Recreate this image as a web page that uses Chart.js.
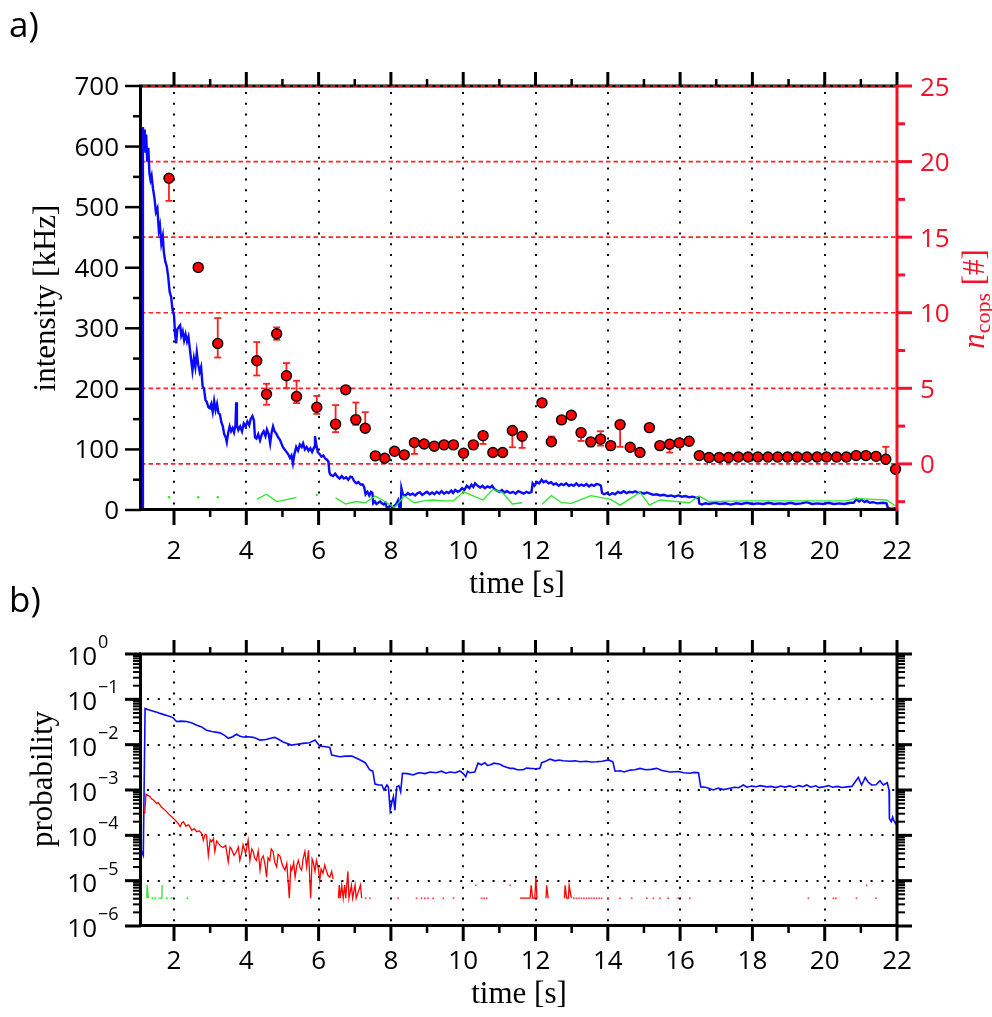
<!DOCTYPE html>
<html>
<head>
<meta charset="utf-8">
<script src="https://cdn.jsdelivr.net/npm/chart.js@4.4.1/dist/chart.umd.min.js"></script>
<style>
  html, body { margin: 0; padding: 0; background: #fff; width: 992px; height: 1017px; overflow: hidden; }
  canvas { position: absolute; left: 0; }
  #chartA { top: 0; }
  #chartB { top: 620px; }
</style>
</head>
<body>
<canvas id="chartA" width="992" height="620"></canvas>
<canvas id="chartB" width="992" height="397"></canvas>
<script>
// ---------------- panel a: fluorescence intensity ----------------
const intensityTime = [
  1.12,1.14,1.17,1.19,1.21,1.23,1.26,1.29,1.32,1.35,1.38,1.42,1.46,1.50,1.54,1.58,1.61,1.65,1.69,1.72,
  1.76,1.80,1.84,1.88,1.92,1.96,2.00,2.03,2.06,2.09,2.13,2.17,2.20,2.24,2.28,2.32,2.36,2.40,2.44,2.48,
  2.51,2.55,2.59,2.63,2.67,2.71,2.75,2.79,2.83,2.87,2.91,2.95,2.99,3.03,3.07,3.11,3.15,3.19,3.23,3.27,
  3.31,3.35,3.39,3.43,3.46,3.50,3.54,3.58,3.62,3.66,3.70,3.72,3.74,3.78,3.83,3.88,3.93,3.98,4.03,4.08,
  4.12,4.17,4.21,4.24,4.28,4.33,4.38,4.43,4.48,4.53,4.57,4.62,4.66,4.70,4.74,4.78,4.83,4.88,4.93,4.97,
  5.01,5.06,5.11,5.16,5.21,5.25,5.29,5.33,5.38,5.43,5.48,5.53,5.57,5.62,5.67,5.72,5.77,5.82,5.88,5.90,
  5.93,5.98,6.03,6.08,6.13,6.18,6.23,6.27,6.30,6.33,6.40,6.46,6.52,6.58,6.64,6.70,6.76,6.82,6.88,6.93,
  6.98,7.04,7.10,7.16,7.22,7.26,7.30,7.35,7.40,7.45,7.49,7.51,7.56,7.60,7.65,7.70,7.75,7.80,7.85,7.88,
  7.92,7.98,8.04,8.10,8.15,8.20,8.24,8.27,8.29,8.33,8.40,8.47,8.53,8.60,8.67,8.74,8.80,8.87,8.94,9.00,
  9.07,9.14,9.20,9.27,9.34,9.40,9.47,9.54,9.60,9.67,9.72,9.78,9.85,9.91,9.97,10.03,10.10,10.17,10.23,10.28,
  10.33,10.40,10.47,10.53,10.60,10.67,10.74,10.80,10.87,10.93,11.00,11.07,11.14,11.21,11.30,11.38,11.45,11.52,11.60,11.67,
  11.75,11.82,11.89,11.92,11.97,12.04,12.10,12.17,12.22,12.29,12.36,12.43,12.50,12.57,12.64,12.71,12.78,12.85,12.92,12.99,
  13.06,13.13,13.20,13.27,13.34,13.41,13.48,13.55,13.62,13.69,13.76,13.81,13.84,13.90,13.97,14.05,14.12,14.20,14.28,14.36,
  14.44,14.52,14.60,14.68,14.76,14.84,14.92,15.00,15.08,15.17,15.25,15.35,15.45,15.55,15.65,15.75,15.85,15.95,16.05,16.15,
  16.25,16.35,16.45,16.51,16.53,16.60,16.70,16.80,16.95,17.10,17.25,17.40,17.55,17.70,17.85,18.00,18.15,18.30,18.45,18.60,
  18.75,18.90,19.05,19.20,19.35,19.50,19.65,19.80,19.95,20.10,20.25,20.40,20.55,20.70,20.80,20.88,20.95,21.02,21.10,21.16,
  21.25,21.34,21.45,21.60,21.71,21.75,21.85,21.97
];
const intensityKHz = [
  0,632,600,628,590,620,575,598,556,545,552,530,515,492,498,462,470,440,452,425,
  410,402,385,360,352,330,322,290,275,298,302,305,288,295,280,290,278,286,265,245,
  230,250,236,260,240,228,236,205,200,182,178,170,168,175,162,180,165,175,160,158,
  145,138,125,120,112,128,138,130,135,128,140,178,140,132,138,130,143,138,146,140,
  150,155,148,120,118,125,115,125,130,122,133,125,110,128,138,130,126,120,116,110,
  104,100,96,92,86,90,77,92,104,98,108,104,110,100,104,98,102,96,104,122,
  110,95,92,88,90,85,83,80,62,58,56,60,55,52,56,52,54,50,55,54,
  48,44,46,42,42,38,26,30,24,30,28,11,14,10,12,14,11,9,12,5,
  3,8,4,7,10,16,3,2,36,26,24,28,25,27,24,28,29,25,28,30,
  26,29,26,30,27,31,27,30,28,32,28,33,30,32,36,33,40,36,42,38,
  44,40,37,40,36,39,37,40,34,32,30,33,29,31,28,30,27,31,29,27,
  30,28,30,44,40,46,44,50,46,48,44,46,42,44,40,43,41,44,40,42,
  40,44,40,42,40,43,39,42,40,43,42,40,28,26,28,25,28,26,30,28,
  31,28,30,29,31,28,29,27,29,27,25,26,24,25,23,24,22,24,22,23,
  21,22,20,21,11,9,11,10,12,10,11,9,11,10,12,10,11,10,12,10,
  11,10,12,10,11,13,10,11,10,12,10,11,10,12,12,18,14,17,13,15,
  12,13,11,12,11,3,2,3
];

// per-interval shot estimate (gaps where no estimate exists)
const shotTime = [1.86,1.90,2.67,2.71,3.21,3.25,4.29,4.56,4.84,5.11,5.39,5.45,5.95,6.00,
  6.47,6.75,7.03,7.29,7.57,7.83,8.10,8.37,8.65,8.92,9.17,9.47,9.73,10.01,10.55,10.82,11.09,11.36,11.63,11.70,
  12.18,12.44,12.72,12.99,13.53,14.08,14.34,14.89,15.15,15.44,16.25,16.53,16.80,17.88,20.60,20.88,21.34,21.71,21.96];
const shotKHz = [21,null,21,null,21,null,18,26,14,17,21,null,25,null,
  20,10,14,12,23,14,4,23,12,15,16.5,15,15,30,16.5,34,28.6,10,12,null,
  9.4,23.7,12,11,23.7,17.6,8,29,8,16.5,12,23,14,15,15,19,17.6,16.5,6.6];

// number of detected copies per interval, with error bounds
const copsTime = [1.86,2.67,3.21,4.29,4.56,4.84,5.11,5.39,5.95,6.47,6.75,7.03,7.29,7.57,7.83,8.10,8.37,8.65,8.92,9.20,
  9.47,9.73,10.01,10.28,10.55,10.82,11.09,11.36,11.63,12.18,12.44,12.72,12.99,13.26,13.53,13.80,14.08,14.34,14.62,14.89,
  15.15,15.44,15.71,15.98,16.25,16.53,16.80,17.08,17.34,17.61,17.88,18.15,18.43,18.70,18.97,19.24,19.51,19.79,20.05,20.33,
  20.60,20.87,21.14,21.42,21.69,21.96];
const copsCount = [18.9,13.0,7.97,6.82,4.61,8.61,5.83,4.46,3.75,2.63,4.90,2.93,2.36,0.53,0.37,0.84,0.60,1.41,1.32,1.17,
  1.26,1.26,0.71,1.26,1.87,0.75,0.75,2.21,1.83,4.04,1.46,2.91,3.22,2.07,1.46,1.64,1.21,2.60,1.10,0.75,
  2.40,1.21,1.30,1.39,1.50,0.55,0.42,0.42,0.42,0.46,0.46,0.46,0.46,0.46,0.46,0.46,0.46,0.46,0.46,0.46,
  0.46,0.55,0.55,0.50,0.31,-0.35];
const copsLow = [17.4,null,7.04,5.85,3.91,8.21,5.01,4.02,3.31,2.10,null,2.58,2.36,null,null,null,null,0.66,null,null,
  null,null,null,null,1.32,null,null,1.10,1.06,null,1.46,null,null,1.52,1.15,1.21,null,1.13,null,null,
  null,null,0.75,null,null,null,null,null,null,null,null,null,null,null,null,null,null,null,null,null,
  null,null,null,null,0.31,null];
const copsHigh = [18.9,null,9.65,8.06,5.30,9.03,6.67,5.50,4.50,3.89,null,4.06,3.42,null,null,null,null,1.41,null,null,
  null,null,null,null,1.87,null,null,2.21,1.83,null,1.81,null,null,2.07,1.46,2.16,null,2.60,null,null,
  null,null,1.30,null,null,null,null,null,null,null,null,null,null,null,null,null,null,null,null,null,
  null,null,null,null,1.13,null];

// ---------------- panel b: probabilities ----------------
const probTime = [1.09,1.15,1.20,1.27,1.34,1.45,1.55,1.61,1.72,1.80,1.89,1.98,2.03,2.07,2.20,2.35,2.50,2.63,2.75,2.90,
  3.05,3.27,3.40,3.50,3.62,3.73,3.81,3.91,4.05,4.19,4.30,4.38,4.55,4.70,4.79,4.90,5.02,5.15,5.25,5.40,
  5.57,5.75,5.90,6.03,6.20,6.31,6.36,6.59,6.75,6.92,7.05,7.15,7.29,7.42,7.50,7.56,7.65,7.75,7.81,7.89,
  7.93,7.98,8.03,8.07,8.11,8.16,8.22,8.27,8.32,8.45,8.62,8.70,8.80,8.95,9.08,9.25,9.40,9.52,9.63,9.78,
  9.91,10.00,10.07,10.12,10.18,10.32,10.41,10.50,10.60,10.67,10.74,10.85,11.02,11.10,11.20,11.30,11.39,11.50,11.66,11.75,
  11.85,12.00,12.12,12.17,12.28,12.40,12.55,12.65,12.77,12.95,13.10,13.23,13.40,13.55,13.69,13.85,14.02,14.14,14.20,14.35,
  14.45,14.62,14.75,14.89,15.05,15.20,15.35,15.50,15.72,15.95,16.10,16.27,16.40,16.51,16.57,16.70,16.83,16.92,17.05,17.20,
  17.35,17.50,17.62,17.75,17.85,17.98,18.10,18.22,18.40,18.52,18.65,18.78,18.90,19.04,19.15,19.28,19.40,19.50,19.62,19.75,
  19.85,19.96,20.10,20.22,20.35,20.48,20.61,20.75,20.84,20.93,21.02,21.08,21.12,21.20,21.30,21.42,21.53,21.62,21.73,21.78,
  21.79,21.84,21.88,21.90,21.95,21.99];
const probBlue = [4.7e-5,3.6e-5,6.3e-2,6.0e-2,5.75e-2,5.4e-2,5.1e-2,4.9e-2,4.6e-2,4.4e-2,4.17e-2,3.9e-2,3.5e-2,3.24e-2,3.3e-2,3.24e-2,3.0e-2,2.69e-2,2.5e-2,2.09e-2,
  1.95e-2,1.82e-2,1.6e-2,1.38e-2,1.5e-2,1.7e-2,1.55e-2,1.48e-2,1.5e-2,1.45e-2,1.35e-2,1.26e-2,1.3e-2,1.4e-2,1.45e-2,1.3e-2,1.15e-2,1.05e-2,9.8e-3,1.02e-2,
  1.07e-2,1.1e-2,1.26e-2,9.3e-3,9.0e-3,8.7e-3,5.9e-3,5.4e-3,5.6e-3,5.6e-3,5.0e-3,4.6e-3,4.0e-3,2.75e-3,2.6e-3,1.35e-3,1.3e-3,1.29e-3,1.0e-3,1.29e-3,
  1.17e-3,3.6e-4,5.5e-4,7.1e-4,3.6e-4,1.17e-3,1.25e-3,9.1e-4,2.34e-3,2.3e-3,2.14e-3,2.3e-3,2.4e-3,2.3e-3,2.5e-3,2.4e-3,2.6e-3,2.35e-3,2.5e-3,2.4e-3,
  2.63e-3,2.3e-3,1.95e-3,2.6e-3,2.4e-3,2.5e-3,3.9e-3,3.6e-3,4.0e-3,3.5e-3,3.55e-3,3.9e-3,3.7e-3,3.4e-3,3.16e-3,3.0e-3,3.0e-3,2.8e-3,2.8e-3,3.05e-3,
  3.0e-3,2.95e-3,3.0e-3,4.0e-3,4.3e-3,4.8e-3,4.4e-3,4.6e-3,4.4e-3,4.3e-3,4.4e-3,4.2e-3,4.3e-3,4.15e-3,4.2e-3,4.3e-3,4.6e-3,4.2e-3,2.6e-3,2.65e-3,
  2.5e-3,2.75e-3,2.8e-3,3.0e-3,2.8e-3,2.85e-3,3.0e-3,2.7e-3,2.5e-3,2.55e-3,2.4e-3,2.34e-3,2.45e-3,2.4e-3,1.17e-3,1.15e-3,1.07e-3,1.0e-3,1.1e-3,1.02e-3,
  1.08e-3,1.15e-3,1.12e-3,1.29e-3,1.15e-3,1.22e-3,1.18e-3,1.25e-3,1.17e-3,1.2e-3,1.13e-3,1.22e-3,1.16e-3,1.23e-3,1.14e-3,1.25e-3,1.18e-3,1.29e-3,1.15e-3,1.24e-3,
  1.13e-3,1.17e-3,1.25e-3,1.15e-3,1.2e-3,1.14e-3,1.17e-3,1.2e-3,1.5e-3,1.9e-3,1.29e-3,1.6e-3,1.9e-3,1.5e-3,1.29e-3,1.3e-3,1.6e-3,1.29e-3,1.45e-3,1.0e-3,
  2.34e-4,2.0e-4,2.5e-4,2.2e-4,1.9e-4,1.7e-4];

const probRedTime = [1.19,1.225,1.28,1.336,1.38,1.43,1.47,1.52,1.56,1.61,1.65,1.70,1.75,1.80,1.86,1.93,2.00,2.07,2.12,2.17,
  2.22,2.26,2.33,2.40,2.45,2.49,2.56,2.63,2.70,2.77,2.81,2.86,2.90,2.95,3.00,3.04,3.09,3.13,3.18,3.22,
  3.29,3.36,3.43,3.50,3.55,3.59,3.66,3.73,3.78,3.82,3.87,3.91,3.98,4.05,4.10,4.15,4.19,4.23,4.28,4.33,
  4.38,4.42,4.47,4.52,4.56,4.60,4.65,4.69,4.74,4.79,4.84,4.88,4.93,5.00,5.07,5.12,5.19,5.23,5.26,5.31,
  5.35,5.40,5.44,5.49,5.53,5.57,5.62,5.67,5.72,5.78,5.82,5.85,5.90,5.94,5.99,6.03,6.07,6.12,6.17,6.21,
  6.26,6.31,6.36,6.40,6.45,6.55,6.57,6.60,6.64,6.68,6.72,6.75,6.81,6.84,6.91,6.94,7.01,7.04,7.16,7.19,
  7.24,7.30,7.35,7.42,7.46,8.20,8.25,8.71,8.76,8.85,8.90,8.94,8.98,9.03,9.08,9.17,9.22,9.45,9.50,9.73,
  9.78,10.35,10.40,10.51,10.55,10.58,10.62,10.65,10.70,11.30,11.35,11.57,11.85,11.88,11.92,11.98,12.01,12.04,12.06,12.10,
  12.29,12.31,12.35,12.40,12.80,12.82,12.86,12.91,12.93,12.99,
  13.02,13.06,13.09,13.13,13.16,13.20,13.23,13.27,13.30,13.34,13.37,13.41,13.44,13.48,13.51,13.55,13.58,13.62,13.65,13.69,
  13.72,13.76,13.79,13.83,13.90,
  14.01,14.05,14.34,14.38,14.66,14.70,15.08,15.12,
  15.26,15.30,15.44,15.48,15.67,15.71,15.95,15.99,16.27,16.31,19.55,19.59,20.24,20.28,20.31,20.35,20.88,20.92,21.16,21.20,
  21.42];
const probRed = [3.0e-4,8.1e-4,7.6e-4,7.1e-4,6.4e-4,6.0e-4,5.6e-4,5.0e-4,5.3e-4,4.7e-4,4.2e-4,3.9e-4,3.6e-4,3.3e-4,2.9e-4,2.6e-4,2.3e-4,2.0e-4,1.8e-4,1.55e-4,
  1.9e-4,2.0e-4,1.6e-4,1.7e-4,1.5e-4,1.29e-4,1.4e-4,1.2e-4,1.25e-4,1.1e-4,7.8e-5,1.05e-4,1.02e-4,3.6e-5,8.0e-5,7.2e-5,8.5e-5,4.4e-5,7.5e-5,6.8e-5,
  5.8e-5,5.4e-5,6.0e-5,2.6e-5,5.5e-5,5.0e-5,3.6e-5,4.4e-5,5.5e-5,2.8e-5,4.0e-5,6.2e-5,4.0e-5,7.8e-5,2.8e-5,5.0e-5,4.4e-5,3.2e-5,2.8e-5,4.5e-5,
  1.7e-5,3.0e-5,3.5e-5,2.2e-5,1.2e-5,3.2e-5,2.8e-5,5.0e-5,4.4e-5,2.5e-5,2.0e-5,3.8e-5,3.5e-5,2.2e-5,1.7e-5,2.4e-5,4.1e-6,2.0e-5,1.7e-5,2.5e-5,
  1.2e-5,2.2e-5,2.8e-5,1.9e-5,1.7e-5,3.0e-5,4.4e-5,2.0e-5,4.7e-5,4.1e-6,3.0e-5,2.6e-5,1.6e-5,2.8e-5,1.9e-5,1.0e-5,1.8e-5,1.45e-5,2.2e-5,1.7e-5,
  1.3e-5,1.2e-5,1.6e-5,1.1e-5,null,4.1e-6,8.0e-6,4.1e-6,7.9e-6,4.1e-6,8.0e-6,4.1e-6,1.6e-5,4.1e-6,7.9e-6,4.1e-6,8.0e-6,4.1e-6,8.0e-6,4.1e-6,
  null,4.1e-6,null,4.1e-6,null,4.1e-6,null,4.1e-6,null,4.1e-6,null,4.1e-6,null,4.1e-6,null,4.1e-6,null,4.1e-6,null,4.1e-6,
  null,7.9e-6,null,4.1e-6,null,4.1e-6,null,4.1e-6,null,7.9e-6,null,4.1e-6,4.1e-6,7.9e-6,4.1e-6,4.1e-6,1.17e-5,4.1e-6,4.1e-6,null,
  4.1e-6,7.9e-6,4.1e-6,null,4.1e-6,7.9e-6,4.1e-6,4.1e-6,7.9e-6,4.1e-6,
  null,4.1e-6,null,4.1e-6,null,4.1e-6,null,4.1e-6,null,4.1e-6,null,4.1e-6,null,4.1e-6,null,4.1e-6,null,4.1e-6,null,4.1e-6,
  null,4.1e-6,null,4.1e-6,null,
  4.1e-6,null,4.1e-6,null,4.1e-6,null,4.1e-6,null,
  4.1e-6,null,4.1e-6,null,4.1e-6,null,4.1e-6,null,4.1e-6,null,4.1e-6,null,4.1e-6,null,4.1e-6,null,4.1e-6,null,7.9e-6,null,
  4.1e-6];

const probGreenTime = [1.25,1.255,1.29,1.32,1.40,1.44,1.48,1.53,1.57,1.63,1.665,1.67,1.71,1.80,1.84,1.93,1.97,2.37];
const probGreen = [4.1e-6,8.0e-6,4.1e-6,null,4.1e-6,null,4.1e-6,null,4.1e-6,4.1e-6,4.1e-6,8.0e-6,null,4.1e-6,null,4.1e-6,null,4.1e-6];

// ---------------- axis ticks ----------------
const timeTicks = [2,4,6,8,10,12,14,16,18,20,22];
const timeMinorTicks = [3,5,7,9,11,13,15,17,19,21];
const intensityTicks = [0,100,200,300,400,500,600,700];
const intensityMinorTicks = [50,150,250,350,450,550,650];
const copsTicks = [0,5,10,15,20,25];
const copsMinorTicks = [-2.5,2.5,7.5,12.5,17.5,22.5];
const probExponents = [0,-1,-2,-3,-4,-5,-6];

// ---------------- drawing helpers ----------------
const TICK_FONT = '26px "Open Sans"';
const EXP_FONT = '18px "Open Sans"';
const TITLE_FONT = '31px "Liberation Serif"';
const AXIS_RED = '#f2132b';
const GRID_RED = '#ff2424';
const BLUE = '#0a0aff';

const pts = (xs, ys) => xs.map((x, i) => ({ x, y: ys[i] }));

// radius only for samples that have no neighbour to join with
const loneRadius = r => c => {
  const d = c.dataset.data, i = c.dataIndex;
  const p = d[i - 1], n = d[i + 1];
  if (d[i].y == null) return 0;
  return ((!p || p.y == null) && (!n || n.y == null)) ? r : 0;
};

function seg(ctx, x1, y1, x2, y2) {
  ctx.beginPath(); ctx.moveTo(x1, y1); ctx.lineTo(x2, y2); ctx.stroke();
}

function timeAxisTicks(ctx, x, a) {
  ctx.strokeStyle = '#000'; ctx.setLineDash([]);
  ctx.lineWidth = 3;
  for (const t of timeTicks) {
    const px = x.getPixelForValue(t);
    seg(ctx, px, a.top, px, a.top - 14);
    seg(ctx, px, a.bottom, px, a.bottom + 15);
  }
  ctx.lineWidth = 2.5;
  for (const t of timeMinorTicks) {
    const px = x.getPixelForValue(t);
    seg(ctx, px, a.top, px, a.top - 7);
    seg(ctx, px, a.bottom, px, a.bottom + 7);
  }
}

function timeLabels(ctx, x, y) {
  ctx.font = TICK_FONT; ctx.fillStyle = '#000';
  ctx.textAlign = 'center'; ctx.textBaseline = 'alphabetic';
  for (const t of timeTicks) ctx.fillText(String(t), x.getPixelForValue(t), y);
}

function dottedTimeGrid(ctx, x, a) {
  ctx.save();
  ctx.strokeStyle = '#000'; ctx.lineWidth = 2; ctx.setLineDash([2, 8.8]);
  for (const t of timeTicks) {
    const px = Math.round(x.getPixelForValue(t));
    if (px >= a.right - 2) continue;
    seg(ctx, px, a.top + 6, px, a.bottom);
  }
  ctx.restore();
}

function rotated(ctx, cx, cy, draw) {
  ctx.save(); ctx.translate(cx, cy); ctx.rotate(-Math.PI / 2); draw(); ctx.restore();
}

// ---------------- panel a decorations ----------------
const panelA = {
  id: 'panelA',
  beforeDatasetsDraw(chart) {
    const { ctx, chartArea: a, scales: { x, yR } } = chart;
    dottedTimeGrid(ctx, x, a);
    ctx.save();
    ctx.strokeStyle = GRID_RED; ctx.lineWidth = 1.7; ctx.setLineDash([4.5, 3]);
    for (const v of copsTicks) {
      const py = yR.getPixelForValue(v);
      if (py < a.top + 2) continue;
      seg(ctx, a.left, py, a.right, py);
    }
    ctx.restore();
  },
  beforeDatasetDraw(chart, args) {
    if (args.index !== 2) return;
    const { ctx, scales: { x, yR } } = chart;
    ctx.save();
    ctx.strokeStyle = '#ff1f1f'; ctx.lineWidth = 1.8; ctx.setLineDash([]);
    copsTime.forEach((t, i) => {
      if (copsLow[i] == null) return;
      const px = x.getPixelForValue(t);
      const y1 = yR.getPixelForValue(copsLow[i]);
      const y2 = yR.getPixelForValue(copsHigh[i]);
      seg(ctx, px, y1, px, y2);
      seg(ctx, px - 3.5, y1, px + 3.5, y1);
      seg(ctx, px - 3.5, y2, px + 3.5, y2);
    });
    ctx.restore();
  },
  afterDatasetsDraw(chart) {
    const { ctx, chartArea: a, scales: { x, y, yR } } = chart;
    ctx.save();
    ctx.setLineDash([]); ctx.lineCap = 'butt';
    // frame
    ctx.strokeStyle = '#000'; ctx.lineWidth = 3;
    seg(ctx, a.left - 0.5, a.top - 1, a.left - 0.5, a.bottom + 1);
    seg(ctx, a.left - 2, a.bottom - 0.5, a.right, a.bottom - 0.5);
    seg(ctx, a.left - 2, a.top, a.right, a.top);
    ctx.strokeStyle = GRID_RED; ctx.lineWidth = 1.7; ctx.setLineDash([4.5, 3]);
    seg(ctx, a.left + 2, a.top, a.right, a.top);
    ctx.setLineDash([]);
    timeAxisTicks(ctx, x, a);
    ctx.strokeStyle = AXIS_RED; ctx.lineWidth = 3;
    seg(ctx, a.right, a.top - 1, a.right, a.bottom + 1);
    // left intensity axis
    ctx.strokeStyle = '#000'; ctx.lineWidth = 2.5;
    for (const v of intensityTicks) { const py = y.getPixelForValue(v); seg(ctx, a.left, py, a.left - 16, py); }
    for (const v of intensityMinorTicks) { const py = y.getPixelForValue(v); seg(ctx, a.left, py, a.left - 8, py); }
    // right count axis
    ctx.strokeStyle = AXIS_RED; ctx.lineWidth = 3;
    for (const v of copsTicks) { const py = yR.getPixelForValue(v); seg(ctx, a.right, py, a.right + 15, py); }
    for (const v of copsMinorTicks) { const py = yR.getPixelForValue(v); seg(ctx, a.right, py, a.right + 8, py); }
    // tick labels
    ctx.font = TICK_FONT; ctx.fillStyle = '#000'; ctx.textAlign = 'right'; ctx.textBaseline = 'alphabetic';
    for (const v of intensityTicks) ctx.fillText(String(v), 119, y.getPixelForValue(v) + 9);
    ctx.fillStyle = AXIS_RED; ctx.textAlign = 'left';
    for (const v of copsTicks) ctx.fillText(String(v), 920, yR.getPixelForValue(v) + 9.5);
    timeLabels(ctx, x, 559);
    // titles
    ctx.font = TITLE_FONT; ctx.fillStyle = '#000'; ctx.textAlign = 'center';
    ctx.fillText('time [s]', 517, 593);
    rotated(ctx, 47, 298, () => {
      ctx.font = TITLE_FONT; ctx.textAlign = 'center'; ctx.textBaseline = 'middle';
      ctx.fillText('intensity [kHz]', 0, 0);
    });
    rotated(ctx, 976, 299, () => {
      const parts = [
        { s: 'n', f: 'italic 31px "Liberation Serif"', dy: 0 },
        { s: 'cops', f: '22px "Liberation Serif"', dy: 6 },
        { s: ' [#]', f: TITLE_FONT, dy: 0 }
      ];
      let w = 0;
      for (const p of parts) { ctx.font = p.f; p.w = ctx.measureText(p.s).width; w += p.w; }
      let cx = -w / 2;
      ctx.fillStyle = AXIS_RED; ctx.textAlign = 'left'; ctx.textBaseline = 'alphabetic';
      for (const p of parts) { ctx.font = p.f; ctx.fillText(p.s, cx, 8 + p.dy); cx += p.w; }
    });
    // panel letters
    ctx.font = '35px "Open Sans"'; ctx.fillStyle = '#000'; ctx.textAlign = 'left';
    ctx.fillText('a)', 9, 37);
    ctx.fillText('b)', 9, 612);
    ctx.restore();
  }
};

// ---------------- panel b decorations ----------------
const panelB = {
  id: 'panelB',
  beforeDatasetsDraw(chart) {
    const { ctx, chartArea: a, scales: { x, y } } = chart;
    dottedTimeGrid(ctx, x, a);
    ctx.save();
    ctx.strokeStyle = '#000'; ctx.lineWidth = 2; ctx.setLineDash([2, 8.8]);
    for (const e of probExponents) {
      const py = Math.round(y.getPixelForValue(Math.pow(10, e)));
      if (py < a.top + 3 || py > a.bottom - 3) continue;
      seg(ctx, a.left + 6, py, a.right, py);
    }
    ctx.restore();
  },
  afterDatasetsDraw(chart) {
    const { ctx, chartArea: a, scales: { x, y } } = chart;
    ctx.save();
    ctx.setLineDash([]); ctx.lineCap = 'butt';
    ctx.strokeStyle = '#000'; ctx.lineWidth = 3;
    ctx.strokeRect(a.left - 0.5, a.top, a.right - a.left + 0.5, a.bottom - a.top - 0.5);
    timeAxisTicks(ctx, x, a);
    // logarithmic ticks on both sides
    for (const e of probExponents) {
      const py = y.getPixelForValue(Math.pow(10, e));
      ctx.lineWidth = 3;
      seg(ctx, a.left, py, a.left - 16, py);
      seg(ctx, a.right, py, a.right + 15, py);
      if (e === -6) continue;
      ctx.lineWidth = 2;
      for (let m = 2; m <= 9; m++) {
        const pm = y.getPixelForValue(m * Math.pow(10, e - 1));
        seg(ctx, a.left, pm, a.left - 8, pm);
        seg(ctx, a.right, pm, a.right + 8, pm);
      }
    }
    // decade labels
    ctx.fillStyle = '#000'; ctx.textBaseline = 'alphabetic';
    for (const e of probExponents) {
      const py = y.getPixelForValue(Math.pow(10, e));
      ctx.font = TICK_FONT; ctx.textAlign = 'right';
      ctx.fillText('10', 97, py + 11);
      ctx.font = EXP_FONT; ctx.textAlign = 'left';
      ctx.fillText(e === 0 ? '0' : '\u2212' + (-e), 98, py - 6);
    }
    timeLabels(ctx, x, 349);
    ctx.font = TITLE_FONT; ctx.textAlign = 'center';
    ctx.fillText('time [s]', 519, 383);
    rotated(ctx, 44, 159, () => {
      ctx.font = TITLE_FONT; ctx.textAlign = 'center'; ctx.textBaseline = 'middle';
      ctx.fillText('probability', 0, 0);
    });
    ctx.restore();
  }
};

const common = {
  responsive: false, animation: false, devicePixelRatio: 1, events: [],
  plugins: { legend: { display: false }, tooltip: { enabled: false } }
};

new Chart(document.getElementById('chartA'), {
  type: 'scatter',
  data: {
    datasets: [
      { type: 'line', data: pts(intensityTime, intensityKHz), yAxisID: 'y', borderColor: BLUE,
        borderWidth: 2.4, pointRadius: 0, tension: 0, order: 3 },
      { type: 'line', data: pts(shotTime, shotKHz), yAxisID: 'y', borderColor: '#2fe62f',
        borderWidth: 1.3, pointRadius: loneRadius(1.2), pointBackgroundColor: '#2fe62f', pointBorderWidth: 0,
        spanGaps: false, tension: 0, order: 2 },
      { type: 'scatter', data: pts(copsTime, copsCount), yAxisID: 'yR', pointRadius: 5,
        pointBackgroundColor: '#ff0000', pointBorderColor: '#000', pointBorderWidth: 1.4, clip: 10, order: 0 }
    ]
  },
  options: Object.assign({}, common, {
    layout: { padding: { left: 141, right: 95, top: 86, bottom: 110 } },
    scales: {
      x: { type: 'linear', min: 1.087, max: 22, display: false },
      y: { type: 'linear', min: 0, max: 700, display: false },
      yR: { type: 'linear', min: -3.05, max: 25, display: false }
    }
  }),
  plugins: [panelA]
});

new Chart(document.getElementById('chartB'), {
  type: 'scatter',
  data: {
    datasets: [
      { type: 'line', data: pts(probTime, probBlue), borderColor: BLUE, borderWidth: 1.6,
        pointRadius: 0, tension: 0, order: 3 },
      { type: 'line', data: pts(probRedTime, probRed), borderColor: '#ff0000', borderWidth: 1.3,
        pointRadius: loneRadius(1), pointBackgroundColor: '#ff5050', pointBorderWidth: 0,
        spanGaps: false, tension: 0, order: 2 },
      { type: 'line', data: pts(probGreenTime, probGreen), borderColor: '#2fe62f', borderWidth: 1.3,
        pointRadius: loneRadius(1), pointBackgroundColor: '#2fe62f', pointBorderWidth: 0,
        spanGaps: false, tension: 0, order: 1 }
    ]
  },
  options: Object.assign({}, common, {
    layout: { padding: { left: 141, right: 95, top: 34, bottom: 91 } },
    scales: {
      x: { type: 'linear', min: 1.087, max: 22, display: false },
      y: { type: 'logarithmic', min: 1e-6, max: 1, display: false }
    }
  }),
  plugins: [panelB]
});
</script>
</body>
</html>
